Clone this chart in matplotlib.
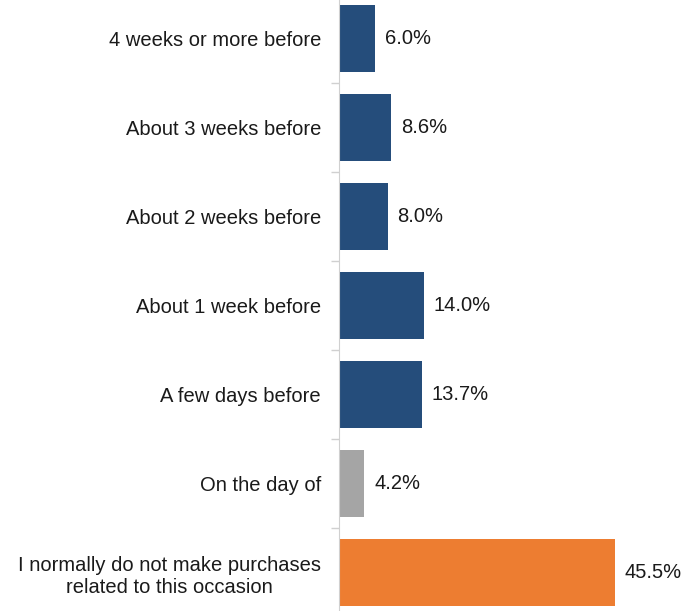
import numpy as np
import matplotlib.pyplot as plt

plt.rcParams['font.family'] = ['Liberation Sans', 'DejaVu Sans']

cats = ["4 weeks or more before", "About 3 weeks before", "About 2 weeks before",
        "About 1 week before", "A few days before", "On the day of",
        "I normally do not make purchases\nrelated to this occasion"]
vals = [6.0, 8.6, 8.0, 14.0, 13.7, 4.2, 45.5]
cols = ["#254D7B"] * 5 + ["#A5A5A5", "#ED7D31"]

fig = plt.figure(figsize=(6.98, 6.11), dpi=100)
ax = fig.add_axes([339 / 698, 0, 1 - 339 / 698, 1])

y = np.arange(len(cats))
ax.barh(y, vals, height=0.75, color=cols, edgecolor="none")
for yi, v in zip(y, vals):
    ax.text(v + 1.6, yi, "%.1f%%" % v, va="center", ha="left", fontsize=14.5, color="#1a1a1a")

ax.set_ylim(6.43, -0.433)
ax.set_xlim(0, 59.2)
ax.set_yticks(y)
ax.set_yticklabels(cats, fontsize=14.5, color="#1a1a1a")
ax.tick_params(axis="y", which="major", length=0, pad=13)
ax.set_yticks(np.arange(len(cats) - 1) + 0.5, minor=True)
ax.tick_params(axis="y", which="minor", length=6, color="#d0d0d0", width=1)
for lab in ax.get_yticklabels():
    lab.set_multialignment("center")
ax.set_xticks([])
for s in ["top", "right", "bottom"]:
    ax.spines[s].set_visible(False)
ax.spines["left"].set_color("#d0d0d0")

fig.savefig("out.png", dpi=100)
